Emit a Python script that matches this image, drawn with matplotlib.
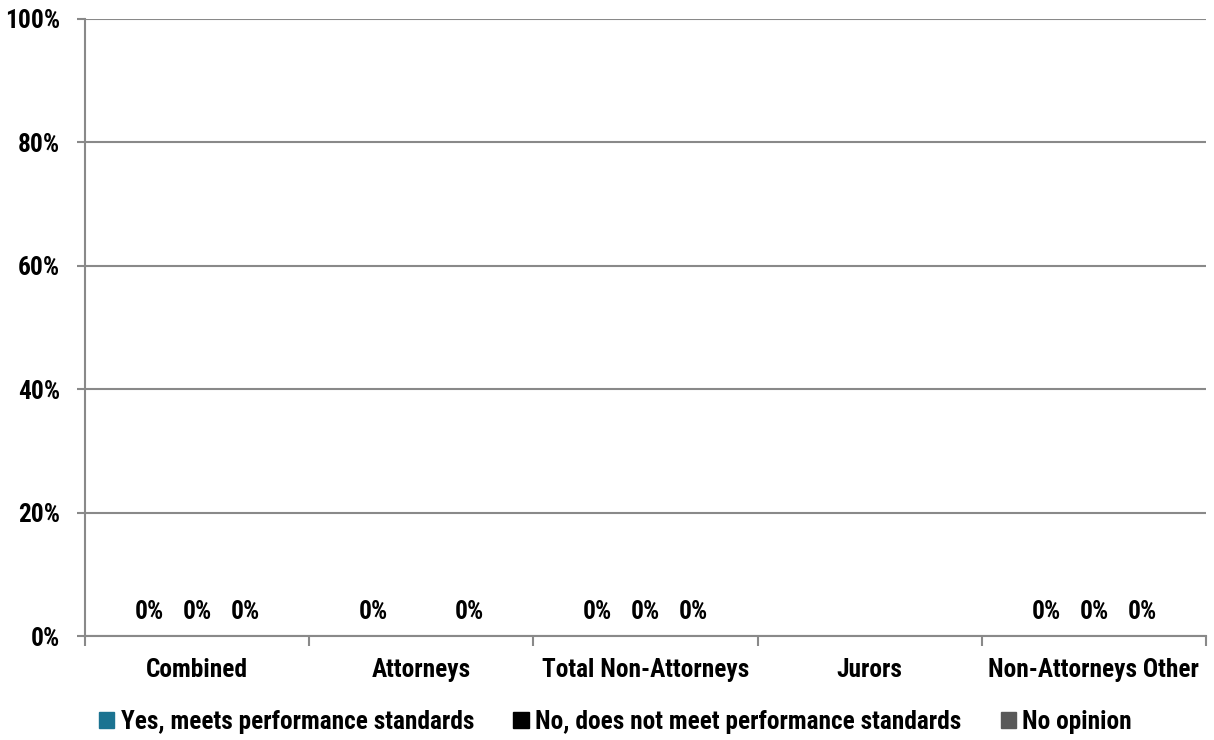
import numpy as np
import matplotlib
matplotlib.use("Agg")
import matplotlib.pyplot as plt
from matplotlib.patches import Patch

plt.rcParams['font.family'] = ['Roboto Condensed', 'Liberation Sans', 'DejaVu Sans']
plt.rcParams['font.weight'] = 'bold'

categories = ["Combined", "Attorneys", "Total Non-Attorneys", "Jurors", "Non-Attorneys Other"]
series_names = ["Yes, meets performance standards", "No, does not meet performance standards", "No opinion"]
yes_vals = [0, 0, 0, np.nan, 0]
no_vals = [0, np.nan, 0, np.nan, 0]
noop_vals = [0, 0, 0, np.nan, 0]
colors = ["#1b7391", "#000000", "#595959"]
yticks = [0, 20, 40, 60, 80, 100]
ytick_labels = ["0%", "20%", "40%", "60%", "80%", "100%"]

FS = 18.3

fig = plt.figure(figsize=(12.14, 7.4), dpi=100)
ax = fig.add_axes([85/1214, 1 - 636/740, (1206-85)/1214, (636-19)/740])

x = np.arange(len(categories))
w = 0.214
for i, (vals, c) in enumerate(zip([yes_vals, no_vals, noop_vals], colors)):
    pos = x + (i - 1) * w
    v = np.array(vals, dtype=float)
    ax.bar(pos, np.nan_to_num(v), w, color=c)
    for p, val in zip(pos, v):
        if not np.isnan(val):
            ax.annotate(f"{val:.0f}%", (p, val), xytext=(0, 17.5), textcoords='offset points',
                        ha='center', va='center', fontsize=FS, fontweight='bold')

ax.set_xlim(-0.5, len(categories) - 0.5)
ax.set_ylim(0, 100)
ax.set_yticks(yticks)
ax.set_yticklabels(ytick_labels, fontsize=FS, fontweight='bold')
ax.set_xticks(x)
ax.set_xticklabels(categories, fontsize=FS, fontweight='bold')
ax.set_xticks(np.arange(len(categories) + 1) - 0.5, minor=True)
ax.tick_params(axis='x', which='major', length=0, pad=16)
ax.tick_params(axis='x', which='minor', length=7, color='#898989', width=1.5)
ax.tick_params(axis='y', length=6, color='#898989', width=1.5, pad=12)
ax.yaxis.grid(True, color='#898989', linewidth=1.5)
ax.set_axisbelow(True)
for s in ['top', 'right']:
    ax.spines[s].set_visible(False)
for s in ['left', 'bottom']:
    ax.spines[s].set_color('#898989')
    ax.spines[s].set_linewidth(1.5)

handles = [Patch(color=c) for c in colors]
fig.legend(handles, series_names, loc='center', bbox_to_anchor=(0.507, 1 - 722/740), ncol=3,
           frameon=False, prop={'size': FS, 'weight': 'bold'}, handlelength=0.6, handleheight=0.6,
           handletextpad=0.25, columnspacing=1.55, borderpad=0, borderaxespad=0)

fig.savefig("out.png", dpi=100)
